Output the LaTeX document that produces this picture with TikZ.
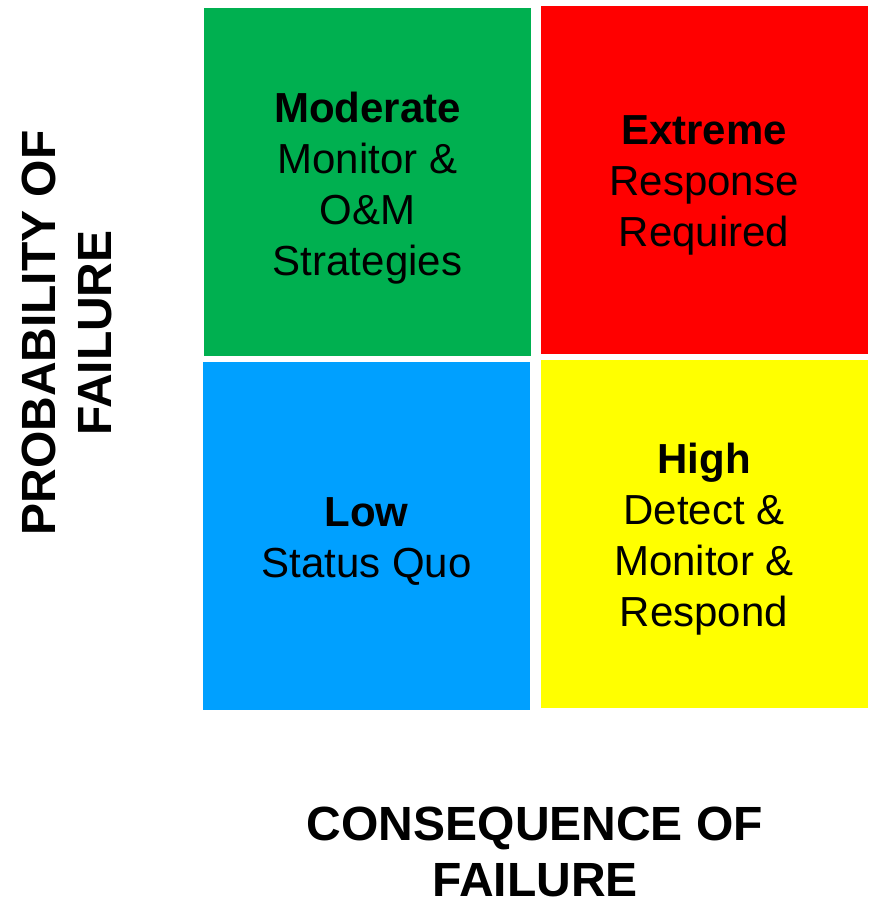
\documentclass[tikz,border=0pt]{standalone}
\usepackage{fontspec}
\setmainfont{Liberation Sans}
\definecolor{cgreen}{RGB}{0,176,80}
\definecolor{cred}{RGB}{255,0,0}
\definecolor{cblue}{RGB}{0,160,255}
\definecolor{cyellow}{RGB}{255,255,0}
\begin{document}
\begin{tikzpicture}[x=1pt,y=-1pt,
  cell/.style={draw=none,inner sep=0pt,outer sep=0pt,minimum width=327pt,minimum height=348pt},
  celltext/.style={inner sep=0pt,align=center,font=\fontsize{42}{51}\selectfont,text=black},
  axis/.style={inner sep=0pt,align=center,font=\fontsize{48}{56}\selectfont\bfseries}]
\useasboundingbox (0,0) rectangle (868,902);
\node[cell,fill=cgreen] (mod) at (367.5,182) {};
\node[cell,fill=cred] (ext) at (704,179.5) {};
\node[cell,fill=cblue] (low) at (366.5,536) {};
\node[cell,fill=cyellow] (high) at (704,533.5) {};
\node[celltext] (modt) at ([yshift=-6pt]mod.center) {\textbf{Moderate}\\Monitor \&\\O\&M\\Strategies};
\node[celltext] (extt) at ([yshift=-6pt]ext.center) {\textbf{Extreme}\\Response\\Required};
\node[celltext] (lowt) at ([yshift=-6pt]low.center) {\textbf{Low}\\Status Quo};
\node[celltext] (hight) at ([yshift=-6pt]high.center) {\textbf{High}\\Detect \&\\Monitor \&\\Respond};
\node[axis,rotate=90] (prob) at (67,333) {PROBABILITY OF\\FAILURE};
\node[axis] (cons) at (535,852) {CONSEQUENCE OF\\FAILURE};
\end{tikzpicture}
\end{document}
